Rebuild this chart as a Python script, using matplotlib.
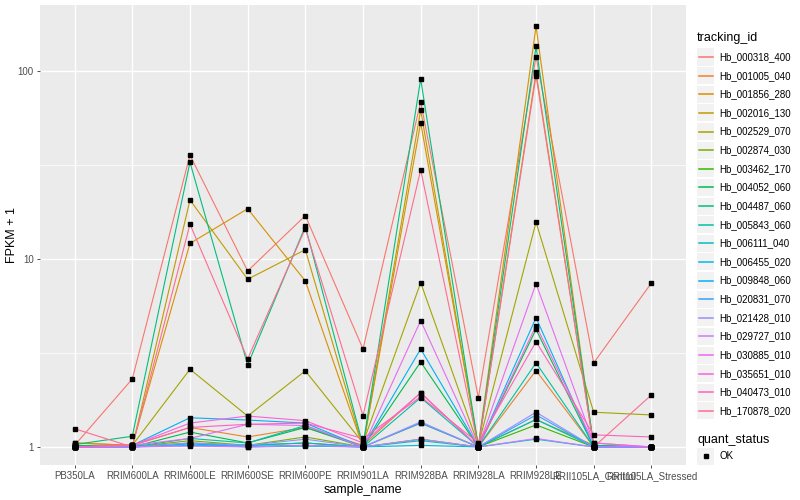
import matplotlib.pyplot as plt
import matplotlib.patches as mpatches
from matplotlib.lines import Line2D
from matplotlib.ticker import FixedLocator, NullFormatter
import numpy as np

plt.rcParams['font.family'] = ['Liberation Sans', 'DejaVu Sans']

samples = ['PB350LA', 'RRIM600LA', 'RRIM600LE', 'RRIM600SE', 'RRIM600PE',
           'RRIM901LA', 'RRIM928BA', 'RRIM928LA', 'RRIM928LE',
           'RRII105LA_Control', 'RRII105LA_Stressed']

tracking_ids = ['Hb_000318_400', 'Hb_001005_040', 'Hb_001856_280', 'Hb_002016_130',
                'Hb_002529_070', 'Hb_002874_030', 'Hb_003462_170', 'Hb_004052_060',
                'Hb_004487_060', 'Hb_005843_060', 'Hb_006111_040', 'Hb_006455_020',
                'Hb_009848_060', 'Hb_020831_070', 'Hb_021428_010', 'Hb_029727_010',
                'Hb_030885_010', 'Hb_035651_010', 'Hb_040473_010', 'Hb_170878_020']

# FPKM + 1, one list per tracking_id, in sample order
hb_000318_400 = [1.02, 2.30, 35.7, 8.63, 17.0, 3.32, 68.4, 1.83, 119, 2.80, 7.45]
hb_001005_040 = [1.05, 1.02, 1.27, 1.13, 1.27, 1.02, 1.94, 1.00, 2.55, 1.00, 1.00]
hb_001856_280 = [1.05, 1.02, 12.1, 18.5, 7.64, 1.00, 53.1, 1.02, 173, 1.00, 1.00]
hb_002016_130 = [1.02, 1.00, 20.6, 7.80, 11.2, 1.00, 62.0, 1.00, 98.4, 1.00, 1.00]
hb_002529_070 = [1.00, 1.02, 2.59, 1.46, 2.54, 1.05, 7.48, 1.02, 15.7, 1.53, 1.48]
hb_002874_030 = [1.00, 1.00, 1.08, 1.02, 1.13, 1.00, 1.34, 1.00, 1.40, 1.02, 1.00]
hb_003462_170 = [1.00, 1.00, 1.05, 1.02, 1.05, 1.00, 1.10, 1.00, 1.31, 1.00, 1.00]
hb_004052_060 = [1.02, 1.00, 1.20, 1.05, 1.27, 1.00, 2.83, 1.00, 4.22, 1.00, 1.00]
hb_004487_060 = [1.03, 1.14, 32.7, 2.73, 14.9, 1.02, 90.7, 1.00, 135, 1.02, 1.00]
hb_005843_060 = [1.00, 1.00, 1.11, 1.05, 1.30, 1.00, 1.83, 1.00, 2.80, 1.00, 1.00]
hb_006111_040 = [1.00, 1.00, 1.04, 1.02, 1.05, 1.00, 1.08, 1.00, 1.40, 1.00, 1.00]
hb_006455_020 = [1.00, 1.00, 1.04, 1.00, 1.01, 1.00, 1.02, 1.00, 1.10, 1.00, 1.00]
hb_009848_060 = [1.00, 1.02, 1.43, 1.39, 1.34, 1.00, 3.32, 1.00, 4.87, 1.00, 1.00]
hb_020831_070 = [1.00, 1.00, 1.02, 1.01, 1.02, 1.00, 1.34, 1.00, 1.48, 1.00, 1.00]
hb_021428_010 = [1.00, 1.00, 1.05, 1.02, 1.10, 1.00, 1.36, 1.00, 1.53, 1.00, 1.00]
hb_029727_010 = [1.00, 1.00, 1.01, 1.00, 1.02, 1.00, 1.10, 1.00, 1.11, 1.00, 1.00]
hb_030885_010 = [1.00, 1.02, 1.11, 1.32, 1.30, 1.00, 4.70, 1.00, 7.39, 1.05, 1.00]
hb_035651_010 = [1.00, 1.02, 1.34, 1.46, 1.38, 1.05, 1.94, 1.00, 4.42, 1.05, 1.00]
hb_040473_010 = [1.00, 1.02, 1.27, 1.32, 1.34, 1.11, 1.85, 1.05, 3.63, 1.16, 1.13]
hb_170878_020 = [1.25, 1.00, 15.3, 2.94, 14.5, 1.47, 29.8, 1.00, 94.4, 1.00, 1.89]

fpkm = [hb_000318_400, hb_001005_040, hb_001856_280, hb_002016_130, hb_002529_070,
        hb_002874_030, hb_003462_170, hb_004052_060, hb_004487_060, hb_005843_060,
        hb_006111_040, hb_006455_020, hb_009848_060, hb_020831_070, hb_021428_010,
        hb_029727_010, hb_030885_010, hb_035651_010, hb_040473_010, hb_170878_020]

# ggplot2 default hue palette, 20 levels
colors = ['#F8766D', '#EA8331', '#D89000', '#C09B00', '#A3A500', '#7CAE00', '#39B600',
          '#00BB4E', '#00BF7D', '#00C1A3', '#00BFC4', '#00BAE0', '#00B0F6', '#35A2FF',
          '#9590FF', '#C77CFF', '#E76BF3', '#FA62DB', '#FF62BC', '#FF6C91']

W, H = 800, 500
fig = plt.figure(figsize=(8, 5), dpi=100)
ax = fig.add_axes([40 / W, 35 / H, 646 / W, 460 / H])
ax.set_facecolor('#EBEBEB')
for s in ax.spines.values():
    s.set_visible(False)

x = np.arange(1, len(samples) + 1)
for vals, c in zip(fpkm, colors):
    ax.plot(x, vals, color=c, lw=0.8, zorder=3)
for vals in fpkm:
    ax.plot(x, vals, ls='none', marker='s', ms=2.4, color='black', zorder=4)

ax.set_yscale('log')
ax.set_ylim(10 ** -0.096, 10 ** 2.351)
ax.set_xlim(0.4, len(samples) + 0.6)
ax.set_yticks([1, 10, 100])
ax.set_yticklabels(['1', '10', '100'])
ax.yaxis.set_minor_locator(FixedLocator([10 ** 0.5, 10 ** 1.5]))
ax.yaxis.set_minor_formatter(NullFormatter())
ax.set_xticks(x)
ax.set_xticklabels(samples)

ax.tick_params(which='major', length=2.5, width=0.6, color='#333333',
               labelsize=7, labelcolor='#4D4D4D', pad=2)
ax.tick_params(which='minor', length=0)
ax.grid(which='major', color='white', lw=1.0, zorder=0)
ax.grid(which='minor', axis='y', color='white', lw=0.5, zorder=0)
ax.set_axisbelow(True)

ax.set_xlabel('sample_name', fontsize=9, labelpad=2)
ax.set_ylabel('FPKM + 1', fontsize=9, va='center')
ax.yaxis.set_label_coords(-28 / 646, 0.5)

# legend built by hand, ggplot style
def fx(px):
    return px / W

def fy(py):
    return 1 - py / H

fig.text(fx(697), fy(38), 'tracking_id', fontsize=9, va='center', ha='left')
for k, (tid, c) in enumerate(zip(tracking_ids, colors)):
    yc = 57 + 18.63 * k
    fig.add_artist(mpatches.Rectangle((fx(697), fy(yc + 8.5)), 17 / W, 17 / H,
                                      transform=fig.transFigure, facecolor='#F2F2F2',
                                      edgecolor='none'))
    fig.add_artist(Line2D([fx(699), fx(713)], [fy(yc), fy(yc)],
                          transform=fig.transFigure, color=c, lw=1.1))
    fig.text(fx(719), fy(yc), tid, fontsize=7, va='center', ha='left')

fig.text(fx(697), fy(440), 'quant_status', fontsize=9, va='center', ha='left')
fig.add_artist(mpatches.Rectangle((fx(697), fy(456 + 8.5)), 17 / W, 17 / H,
                                  transform=fig.transFigure, facecolor='#F2F2F2',
                                  edgecolor='none'))
fig.add_artist(Line2D([fx(705.5)], [fy(456)], transform=fig.transFigure,
                      ls='none', marker='s', ms=2.4, color='black'))
fig.text(fx(719), fy(456), 'OK', fontsize=7, va='center', ha='left')

fig.savefig('out.png', dpi=100)
